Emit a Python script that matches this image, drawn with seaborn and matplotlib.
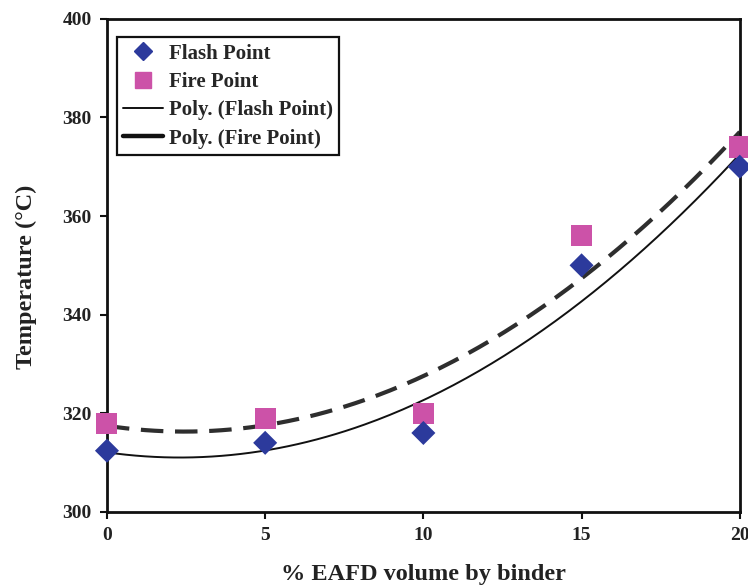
import numpy as np
import pandas as pd
import seaborn as sns
import matplotlib
matplotlib.use("Agg")
import matplotlib.pyplot as plt
from matplotlib.lines import Line2D

# Data
eafd = [0, 5, 10, 15, 20]
flash_point = [312.4, 314, 316, 350, 370]
fire_point = [318, 319, 320, 356, 374]
x_ticks = [0, 5, 10, 15, 20]
y_ticks = [300, 320, 340, 360, 380, 400]

sns.set_theme(style="white")
plt.rcParams['font.family'] = ['Liberation Serif', 'DejaVu Serif']
plt.rcParams['font.weight'] = 'bold'

fig = plt.figure(figsize=(7.48, 5.87), dpi=100)
ax = fig.add_axes([0.143, 0.128, 0.846, 0.840])

df = pd.DataFrame({"x": eafd, "flash": flash_point, "fire": fire_point})

# Polynomial (order 2) trendlines, Excel-style
xs = np.linspace(0, 20, 200)
pf = np.polyfit(eafd, flash_point, 2)
pr = np.polyfit(eafd, fire_point, 2)
fit = pd.DataFrame({"x": xs, "flash": np.polyval(pf, xs), "fire": np.polyval(pr, xs)})

sns.lineplot(data=fit, x="x", y="fire", ax=ax, color="#2e2e2e", lw=3.0,
             label="_nolegend_")
ax.lines[-1].set_dashes([5.4, 2.8])
sns.lineplot(data=fit, x="x", y="flash", ax=ax, color="#111111", lw=1.4,
             label="_nolegend_")

sns.scatterplot(data=df, x="x", y="fire", ax=ax, marker="s", s=230,
                color="#cc52a8", edgecolor="none", zorder=3, clip_on=False)
sns.scatterplot(data=df, x="x", y="flash", ax=ax, marker="D", s=150,
                color="#2c3a9c", edgecolor="none", zorder=4, clip_on=False)

ax.set_xlim(0, 20)
ax.set_ylim(300, 400)
ax.set_xticks(x_ticks)
ax.set_yticks(y_ticks)
ax.set_xticklabels([str(t) for t in x_ticks], fontsize=14, fontweight='bold', color="#222222")
ax.set_yticklabels([str(t) for t in y_ticks], fontsize=14, fontweight='bold', color="#222222")
ax.set_xlabel("% EAFD volume by binder", fontsize=17.5, fontweight='bold', color="#222222")
ax.set_ylabel("Temperature (\u00b0C)", fontsize=17.5, fontweight='bold', color="#222222")
ax.xaxis.set_label_coords(0.5, -0.106)
ax.yaxis.set_label_coords(-0.111, 0.477)

for sp in ax.spines.values():
    sp.set_visible(True)
    sp.set_color("#111111")
    sp.set_linewidth(2.0)
ax.tick_params(axis='both', direction='out', length=5, width=1.5, color="#111111",
               bottom=True, left=True, pad=6)

handles = [
    Line2D([], [], marker="D", color="#2c3a9c", ls="none", markersize=9),
    Line2D([], [], marker="s", color="#cc52a8", ls="none", markersize=11),
    Line2D([], [], color="#111111", lw=1.4),
    Line2D([], [], color="#111111", lw=3.2),
]
labels = ["Flash Point", "Fire Point", "Poly. (Flash Point)", "Poly. (Fire Point)"]
leg = ax.legend(handles, labels, loc="upper left", bbox_to_anchor=(0.006, 0.975),
                frameon=True, fancybox=False, framealpha=1, edgecolor="#111111",
                prop={'family': 'Liberation Serif', 'weight': 'bold', 'size': 15},
                handlelength=1.9, handletextpad=0.3, labelspacing=0.4,
                borderpad=0.3, borderaxespad=0.3)
leg.get_frame().set_linewidth(1.6)

fig.savefig("out.png", dpi=100)
